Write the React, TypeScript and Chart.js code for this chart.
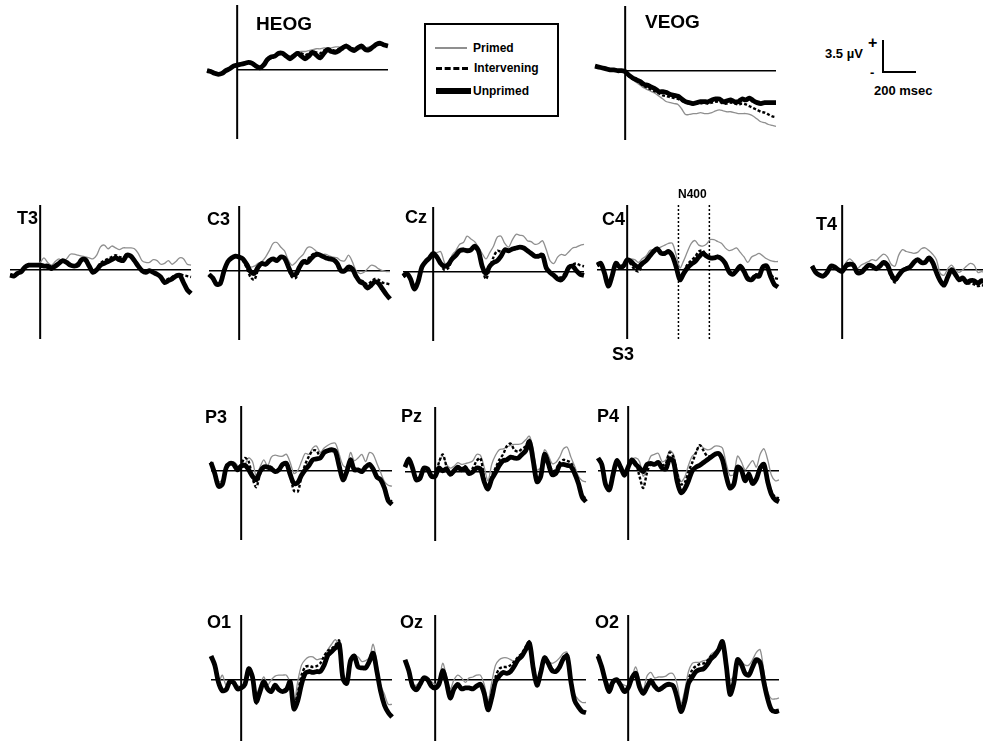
import React, { useEffect, useRef } from "react";
import { Chart, registerables } from "chart.js";

Chart.register(...registerables);

// ---- time axis (ms) ----
const TIMES = [-200,-175,-150,-125,-100,-75,-50,-25,0,25,50,75,100,125,150,175,200,225,250,275,300,325,350,375,400,425,450,475,500,525,550,575,600,625,650,675,700,725,750,775,800,825,850,875,900,925,950,975,1000];
const N400_WINDOW = [340, 545];
const SERIES_NAMES = ["Primed", "Intervening", "Unprimed"];

// ---- amplitudes (µV) ----
const HEOG_PRIMED = [-0.1,-0.2,-0.3,-0.4,-0.3,-0.1,0.1,0.3,0.5,0.6,0.7,0.9,0.8,0.5,0.3,0.6,1.0,1.2,1.4,1.6,1.7,1.6,1.5,1.7,1.9,2.0,2.0,2.1,2.2,2.3,2.3,2.4,2.4,2.4,2.5,2.5,2.4,2.4,2.3,2.3,2.2,2.3,2.4,2.5,2.6,2.7,2.8,2.8,2.8];
const HEOG_INTERVENING = [-0.1,-0.2,-0.4,-0.5,-0.3,-0.1,0.1,0.4,0.5,0.6,0.7,0.8,0.8,0.5,0.3,0.5,1.0,1.3,1.5,1.7,1.8,1.6,1.4,1.6,1.9,1.8,1.6,1.8,2.0,1.9,1.8,2.1,2.3,2.2,2.1,2.3,2.5,2.5,2.4,2.3,2.4,2.5,2.3,2.3,2.5,2.7,2.8,2.7,2.7];
const HEOG_UNPRIMED = [-0.1,-0.2,-0.4,-0.5,-0.4,-0.1,0.1,0.4,0.5,0.6,0.7,0.8,0.7,0.4,0.2,0.5,1.1,1.4,1.5,1.8,1.8,1.5,1.2,1.5,1.8,1.5,1.2,1.5,1.9,1.6,1.3,1.8,2.2,2.0,1.9,2.1,2.4,2.6,2.3,2.1,2.4,2.6,2.2,2.2,2.5,2.8,2.9,2.7,2.6];

const VEOG_PRIMED = [0.5,0.4,0.3,0.2,0.1,0.1,0,0,-0.2,-0.6,-1.0,-1.3,-1.6,-1.9,-2.1,-2.3,-2.5,-2.8,-3.1,-3.4,-3.5,-3.6,-3.7,-4.2,-4.8,-4.8,-4.7,-4.7,-4.6,-4.7,-4.7,-4.6,-4.4,-4.3,-4.4,-4.5,-4.5,-4.6,-4.7,-4.7,-4.7,-4.8,-5.0,-5.3,-5.6,-5.7,-5.9,-6.0,-6.1];
const VEOG_INTERVENING = [0.5,0.4,0.3,0.2,0.1,0.1,0,0,-0.1,-0.6,-0.9,-1.1,-1.4,-1.7,-1.9,-2.1,-2.3,-2.5,-2.7,-2.8,-2.9,-3.0,-3.1,-3.3,-3.5,-3.6,-3.7,-3.6,-3.6,-3.5,-3.6,-3.5,-3.4,-3.4,-3.6,-3.6,-3.5,-3.6,-3.7,-3.6,-3.7,-3.9,-4.1,-4.3,-4.5,-4.6,-4.8,-5.0,-5.1];
const VEOG_UNPRIMED = [0.5,0.4,0.3,0.2,0.1,0.1,0,0,-0.1,-0.5,-0.8,-1.0,-1.2,-1.5,-1.6,-1.8,-2.0,-2.3,-2.3,-2.4,-2.6,-2.7,-2.8,-3.1,-3.4,-3.5,-3.6,-3.5,-3.4,-3.4,-3.4,-3.2,-3.1,-3.1,-3.4,-3.3,-3.2,-3.4,-3.4,-3.1,-3.2,-3.0,-3.3,-3.5,-3.6,-3.5,-3.5,-3.5,-3.5];

const T3_PRIMED = [-0.6,-0.6,-0.3,-0.1,0.4,0.5,0.4,0.5,0.8,1.3,0.8,0.5,0.9,1.2,0.9,1.2,1.7,1.7,1.6,1.5,1.4,1.3,1.2,1.6,2.5,2.7,2.3,2.6,2.4,2.2,2.4,2.4,2.4,2.3,1.8,1.0,0.8,0.8,1.1,1.0,0.6,0.7,1.0,0.6,0.9,1.3,1.2,0.6,0.5];
const T3_INTERVENING = [-0.6,-0.6,-0.4,-0.1,0.3,0.6,0.5,0.5,0.5,0.5,0.2,0.0,0.3,0.7,0.9,0.8,0.5,0.5,0.7,1.0,1.0,0.5,-0.1,0.1,0.7,1.0,1.2,1.4,1.6,1.4,1.3,1.6,1.5,1.1,0.5,0.0,-0.2,-0.1,-0.2,-0.5,-0.7,-1.2,-1.0,-0.8,-0.6,-0.5,-0.6,-0.7,-0.8];
const T3_UNPRIMED = [-0.6,-0.7,-0.4,-0.2,0.3,0.5,0.5,0.5,0.5,0.4,0.4,0.2,0.4,0.7,1.0,0.8,0.5,0.4,0.5,1.1,1.1,0.4,-0.3,0,0.5,0.7,0.9,1.1,1.3,1.1,1.0,1.6,1.5,1.0,0.4,-0.1,-0.3,-0.1,-0.3,-0.5,-0.8,-1.4,-1.2,-1.0,-0.7,-0.6,-1.4,-2.2,-2.6];

const C3_PRIMED = [-0.4,-0.8,-1.3,-1.2,0.1,1.0,1.4,1.6,1.6,1.4,1.0,0.4,0.5,0.8,1.0,1.5,2.2,3.0,3.1,2.6,2.2,1.2,0.6,0.9,1.4,1.8,2.5,2.6,2.3,1.9,1.8,1.8,1.6,1.5,1.4,1.1,1.1,1.7,1.0,0.0,-0.3,-0.2,0.2,0.6,0.5,0.2,0.0,-0.1,-0.1];
const C3_INTERVENING = [-0.4,-0.9,-1.4,-1.3,0.0,1.0,1.3,1.5,1.4,1.1,0.3,-0.7,-1.0,0.1,0.8,0.8,1.1,1.3,1.2,1.5,1.3,0.3,-0.7,-0.8,0.2,1.1,1.2,1.6,1.9,1.8,1.6,1.5,1.4,1.2,0.9,0.1,0.1,0.5,0.3,-0.5,-1.0,-1.2,-1.5,-1.2,-0.9,-1.0,-1.3,-1.4,-1.5];
const C3_UNPRIMED = [-0.4,-0.8,-1.5,-1.4,0,1.0,1.4,1.6,1.5,1.3,0.7,-0.1,-0.3,0.4,0.8,0.7,1.1,1.3,1.1,1.5,1.4,0.5,-0.4,-0.4,0.4,1.0,0.9,1.3,1.7,1.8,1.6,1.4,1.3,1.2,0.8,0,0,0.4,0.2,-0.6,-1.2,-1.4,-1.9,-1.6,-1.2,-1.4,-2.0,-2.6,-3.1];

const CZ_PRIMED = [-0.5,-0.2,-0.7,-1.7,-0.9,0.6,1.2,1.7,2.1,2.1,2.2,1.0,0.4,1.8,2.3,3.0,3.2,3.9,3.6,3.3,2.7,2.0,1.4,2.1,2.8,3.8,3.9,3.1,2.7,3.5,4.1,4.0,3.9,3.4,3.3,3.0,3.1,3.4,2.4,1.2,0.9,1.6,1.9,1.8,2.2,2.6,2.7,2.9,3.0];
const CZ_INTERVENING = [-0.5,-0.3,-0.9,-1.8,-1.0,0.4,1.0,1.4,1.8,1.5,0.8,0.2,0.4,1.3,1.9,2.4,2.5,2.4,2.4,2.7,2.1,0.4,-0.8,0.4,1.6,2.3,2.2,2.3,2.4,2.5,2.7,2.7,2.6,2.4,2.1,1.8,1.8,2.0,0.6,-0.1,-0.3,-0.6,-0.6,-0.1,0.6,0.8,0.9,0.7,0.6];
const CZ_UNPRIMED = [-0.5,-0.2,-0.8,-1.9,-1.1,0.5,1.1,1.5,2.0,1.6,0.9,0.6,0.8,1.4,1.8,2.3,2.4,2.3,2.4,2.8,2.3,0.6,-0.2,0.6,1.0,1.2,1.7,2.4,2.3,2.5,2.6,2.7,2.6,2.3,2.0,1.7,1.7,1.8,0.4,-0.1,-0.4,-0.8,-0.9,-0.4,0.5,0.6,0.1,-0.3,-0.4];

const C4_PRIMED = [0.5,0.7,-0.3,-1.6,-0.6,0.8,0.5,0.6,1.1,1.2,1.1,0.8,1.2,1.5,2.1,2.2,2.3,2.5,2.7,2.9,2.9,1.6,0.2,1.0,2.0,2.9,3.2,2.7,2.6,2.8,3.3,3.3,3.1,2.9,2.4,2.1,2.2,2.4,1.9,1.4,0.8,1.4,1.6,1.8,1.5,1.2,1.0,0.9,0.9];
const C4_INTERVENING = [0.5,0.7,-0.4,-1.7,-0.6,0.7,0.2,0.3,0.9,0.6,0.0,-0.2,0.5,1.0,1.6,2.0,2.2,1.8,1.7,2.0,1.5,0.2,-1.0,-0.2,0.6,1.0,1.4,2.0,2.1,1.6,1.3,1.3,1.5,1.2,0.6,-0.2,-0.4,0.0,0.4,-0.1,-0.8,-0.9,-0.5,-0.5,0.3,0.3,-0.5,-0.9,-1.0];
const C4_UNPRIMED = [0.5,0.7,-0.4,-1.8,-0.7,0.7,0.3,0.4,1.1,0.9,0.5,0.3,0.7,1.0,1.5,2.0,2.3,1.8,1.8,2.0,1.5,0.3,-1.1,-0.4,0.2,0.6,0.9,1.4,1.8,1.5,1.3,1.3,1.4,1.2,0.7,-0.2,-0.5,-0.1,0.4,-0.2,-1.0,-1.1,-0.7,-0.7,0.3,0.4,-0.7,-1.6,-1.9];

const T4_PRIMED = [0.4,-0.2,-0.5,-0.6,-0.2,0.5,0.4,0.1,0.0,0.8,1.2,0.8,0.1,0.5,0.7,0.9,1.1,1.0,1.4,1.7,1.4,0.6,0.4,1.6,2.2,2.0,1.9,1.8,1.9,2.3,2.4,2.1,1.7,1.1,-0.4,-0.6,0.1,0.5,0.0,-0.3,0.0,0.4,0.7,0.5,-0.3,-0.2,-0.3,-0.3,-0.3];
const T4_INTERVENING = [0.4,-0.3,-0.7,-0.8,-0.3,0.4,0.3,-0.1,-0.1,0.6,0.7,0.4,-0.4,-0.2,0.2,0.5,0.3,0.1,0.5,0.7,0.3,-0.8,-1.4,-0.7,-0.1,0.2,0.4,0.8,1.0,0.8,0.9,1.2,0.6,-0.5,-1.3,-1.6,-0.8,-0.2,-0.6,-1.2,-1.1,-1.5,-1.5,-1.6,-1.8,-1.7,-1.8,-1.8,-1.8];
const T4_UNPRIMED = [0.4,-0.3,-0.6,-0.7,-0.3,0.4,0.3,0,-0.2,0.4,0.6,0.5,-0.3,-0.3,0.1,0.5,0.4,0.1,0.4,0.8,0.5,-0.5,-1.1,-0.6,-0.1,0.1,0.3,0.8,1.1,0.8,0.8,1.3,0.8,-0.3,-1.2,-1.7,-0.8,0,-0.5,-1.1,-0.9,-1.4,-1.2,-1.2,-1.5,-1.2,-1.4,-1.4,-1.4];

const P3_PRIMED = [0.8,-0.1,-1.2,-1.0,0.2,0.8,1.0,0.6,0.5,0.7,1.4,1.0,-0.6,0.4,1.2,0.5,1.5,1.7,1.6,1.6,1.8,0.9,-0.3,0.0,1.0,1.9,1.8,2.5,2.7,2.0,2.5,2.8,3.0,3.0,1.8,0.6,0.4,2.0,1.1,1.4,1.8,1.0,2.0,1.8,0.8,-0.2,-1.2,-1.6,-1.7];
const P3_INTERVENING = [1.0,-0.4,-1.6,-1.4,0.1,0.8,0.6,0.1,0.7,1.4,1.0,-0.8,-1.8,-0.4,0.4,0.5,0.4,0.0,0.2,0.8,0.9,-0.4,-2.2,-2.3,-0.6,0.7,1.6,2.2,2.2,1.5,2.1,2.2,2.2,2.1,0.6,-0.8,-0.1,1.3,0.2,0.1,-0.1,0.4,0.7,0.2,-0.6,-1.0,-1.7,-3.0,-3.4];
const P3_UNPRIMED = [0.9,-0.3,-1.7,-1.5,0.3,0.8,0.7,0.1,0.5,0.6,0.1,-0.6,-1.0,-0.1,0.4,0.4,0.2,-0.1,0.1,0.7,0.8,-0.4,-1.4,-1.3,-0.5,0.1,0.6,1.2,1.3,1.4,2.0,2.2,2.3,2.1,0.5,-1.0,-0.1,1.2,0.1,0.1,-0.1,0.4,0.7,0.2,-0.7,-1.0,-1.9,-3.3,-3.7];

const PZ_PRIMED = [0.5,1.2,0.4,-0.8,-0.5,0.5,0.4,-0.2,-0.3,1.0,1.7,0.8,0.4,0.6,1.0,0.8,0.9,1.0,1.2,1.9,1.8,0.5,-1.0,0.8,1.8,2.4,2.5,2.7,2.9,3.0,3.0,3.1,3.5,3.9,2.5,0.2,0.5,2.4,1.8,0.9,1.0,1.6,2.5,2.7,1.6,0.6,-0.5,-1.0,-1.1];
const PZ_INTERVENING = [0.6,1.5,0.3,-1.0,-0.8,0.3,0.1,-0.6,-0.4,1.0,1.9,0.6,-0.4,0.0,0.6,0.3,0.6,0.1,0.4,1.2,1.5,-0.6,-1.8,-0.5,0.4,1.3,1.9,2.8,3.1,2.4,2.2,2.5,2.8,3.5,1.5,-0.9,-0.5,2.0,1.3,0.1,0.2,1.0,1.3,1.2,1.0,0.1,-1.1,-2.5,-3.0];
const PZ_UNPRIMED = [0.5,1.4,0.4,-0.9,-0.7,0.4,0.3,-0.5,-0.5,0.4,0.1,0.3,-0.3,0.1,0.5,0.2,0.4,-0.2,0,0.4,0.3,-1.1,-1.9,-0.8,-0.1,0.7,1.2,1.3,1.6,1.5,1.5,1.9,2.3,3.3,1.2,-1.1,-0.5,1.9,0.9,-0.3,-0.2,0.7,0.8,0.7,0.6,-0.2,-1.3,-2.8,-3.3];

const P4_PRIMED = [1.3,0.7,-1.3,-1.9,-0.3,1.0,0.4,-0.3,0.4,1.2,1.4,1.0,-0.6,0.5,1.6,1.8,1.9,1.0,1.2,2.2,1.8,0.1,-1.2,-0.7,0.6,1.6,2.0,2.8,2.5,2.3,2.4,2.7,2.7,2.5,0.8,-0.5,-0.4,1.6,1.0,0.1,0.6,1.1,0.4,1.8,2.4,1.2,-0.5,-1.1,-1.0];
const P4_INTERVENING = [1.3,0.8,-1.4,-2.0,-0.5,1.0,0.5,-0.3,0.4,1.1,0.9,-0.6,-1.9,-0.2,0.8,0.8,0.9,0.6,0.8,2.0,1.5,-0.4,-1.5,-1.3,-0.1,0.9,2.0,2.8,2.2,1.6,1.6,1.8,1.9,1.3,-0.4,-1.7,-1.3,0.5,0.2,-0.9,-0.2,-1.1,-0.7,0.5,0.8,-1.0,-2.3,-2.9,-3.0];
const P4_UNPRIMED = [1.4,0.7,-1.5,-2.1,-0.4,1.1,0.4,-0.5,0.4,1.2,0.7,0.3,-0.1,0.7,0.8,0.7,0.9,0.3,0.2,1.3,1.0,-1.2,-2.4,-2.0,-1.1,0,0.4,0.6,0.9,1.2,1.5,1.8,1.9,1.2,-0.6,-1.9,-1.5,0.4,0.1,-1.1,-0.4,-1.4,-0.9,0.3,0.7,-1.2,-2.6,-3.2,-3.4];

const O1_PRIMED = [2.3,1.2,-0.2,0.5,-0.6,-0.3,-0.4,-0.6,-0.8,-0.4,1.4,0.0,-1.6,-0.6,0.3,-0.6,0.0,0.4,0.5,0.5,0.5,-0.4,-2.6,-0.2,1.6,2.2,2.5,2.5,2.2,2.3,2.4,3.3,3.9,4.4,3.4,0.5,-0.1,2.3,2.6,2.5,2.0,2.1,2.4,3.9,1.8,-0.6,-1.6,-2.7,-2.7];
const O1_INTERVENING = [2.5,1.5,-0.4,-1.3,-1.0,-0.2,-0.2,-1.0,-0.8,-0.4,1.2,0.0,-2.6,-1.2,-0.2,-1.0,-1.2,-0.6,-1.0,-1.2,-0.8,-0.3,-2.8,-1.5,0.5,1.4,1.5,1.4,1.5,1.8,2.6,3.2,3.4,3.8,4.3,0.5,-0.5,2.0,2.7,1.6,1.3,1.4,2.2,2.8,1.0,-1.2,-2.8,-3.5,-4.0];
const O1_UNPRIMED = [2.6,1.6,-0.3,-1.2,-1.1,-0.2,-0.3,-1.0,-0.9,-0.5,1.2,0.3,-2.4,-1.3,-0.2,-1.0,-1.3,-0.6,-1.1,-1.3,-1.1,-0.2,-3.2,-2.3,-0.5,0.7,0.9,0.8,0.9,0.9,1.6,2.7,3.1,3.5,3.9,0.1,-0.4,2.1,2.6,1.4,1.3,1.3,2.0,2.9,0.9,-1.3,-2.8,-3.6,-4.1];

const OZ_PRIMED = [2.0,0.9,-0.5,-0.6,-0.2,0.4,0.3,-0.2,-0.5,-0.1,1.8,0.4,-1.0,0.0,0.5,0.2,-0.3,0.2,0.3,0.5,0.5,-0.5,-2.3,-0.3,1.6,2.2,2.4,2.4,2.2,2.0,2.4,2.8,3.6,4.3,2.2,0.0,1.4,2.3,2.0,1.8,2.0,2.4,2.9,3.0,0.5,-1.6,-2.2,-2.5,-2.5];
const OZ_INTERVENING = [2.1,1.0,-0.8,-1.2,-0.6,0.1,-0.1,-0.8,-0.9,-0.5,0.9,-0.4,-2.1,-1.1,-0.6,-1.0,-0.9,-0.8,-0.9,-0.6,-0.6,-1.4,-3.0,-1.5,0.3,1.2,1.4,1.4,1.6,2.0,2.5,2.9,3.6,4.2,1.5,-0.6,0.8,2.5,2.0,1.2,1.0,1.5,2.5,2.8,0.0,-2.2,-3.0,-3.4,-3.6];
const OZ_UNPRIMED = [2.2,1.0,-0.7,-1.1,-0.5,0.2,0,-0.7,-0.9,-0.5,1.0,-0.3,-2.0,-1.0,-0.5,-1.0,-0.9,-0.9,-1.0,-0.7,-0.5,-1.5,-3.3,-2.0,-0.2,0.4,0.8,0.7,0.9,1.5,2.2,2.6,3.3,4.0,1.3,-0.6,0.8,2.4,1.8,1.0,0.9,1.4,2.3,2.6,-0.2,-2.3,-3.0,-3.5,-3.6];

const O2_PRIMED = [2.4,1.0,0.0,-0.5,-0.1,0.0,-0.4,-0.6,-0.7,0.3,1.4,0.0,-1.1,0.4,0.8,0.2,0.3,0.3,0.4,0.7,0.6,-0.5,-2.6,-1.2,0.9,1.8,1.9,1.9,2.1,2.2,2.8,3.1,3.5,4.3,2.3,0.0,0.4,2.0,2.0,1.6,1.6,2.2,3.0,3.3,0.9,-1.3,-2.1,-2.1,-2.0];
const O2_INTERVENING = [2.8,1.6,-0.3,-1.4,-0.4,-0.1,-0.7,-1.4,-0.9,0.1,0.6,-0.9,-1.6,-0.9,-0.2,-0.8,-1.2,-1.0,-0.7,-0.6,-0.8,-2.2,-3.6,-2.2,0.0,1.1,1.5,1.7,1.8,2.1,2.6,2.9,3.4,4.0,1.4,-1.5,-0.3,2.0,1.7,0.7,0.5,1.4,2.0,1.7,-0.4,-2.3,-3.4,-3.6,-3.5];
const O2_UNPRIMED = [2.6,1.4,-0.2,-1.3,-0.2,0,-0.6,-1.3,-0.9,0.2,0.7,-0.8,-1.5,-0.8,-0.1,-0.7,-1.1,-0.9,-0.6,-0.5,-0.7,-2.0,-3.5,-2.4,-0.4,0.3,0.9,1.1,1.2,1.7,2.3,2.7,3.3,4.2,1.6,-1.6,-0.4,2.2,1.7,0.7,0.5,1.4,2.2,1.9,-0.3,-2.1,-3.3,-3.5,-3.4];

// ---- geometry / style (kept apart from the data) ----
const X_MIN = -200, X_MAX = 1000, Y_MIN = -7.6, Y_MAX = 7.1;
const PX_PER_MS = 0.151, PX_PER_UV = 9.14, PAD = 8;
const FONT = "'Liberation Sans', Arial, Helvetica, sans-serif";

type PanelDef = {
  name: string;
  series: number[][];
  onsetX: number;
  zeroY: number;
  zeroFromOnset?: boolean;
  window?: number[];
  labelX: number;
  labelTop: number;
  labelSize: number;
};

const PANELS: PanelDef[] = [
  { name: "HEOG", series: [HEOG_PRIMED, HEOG_INTERVENING, HEOG_UNPRIMED], onsetX: 237, zeroY: 70, zeroFromOnset: true, labelX: 256, labelTop: 14, labelSize: 19 },
  { name: "VEOG", series: [VEOG_PRIMED, VEOG_INTERVENING, VEOG_UNPRIMED], onsetX: 625, zeroY: 71, zeroFromOnset: true, labelX: 645, labelTop: 12, labelSize: 19 },
  { name: "T3", series: [T3_PRIMED, T3_INTERVENING, T3_UNPRIMED], onsetX: 40.5, zeroY: 270, labelX: 17, labelTop: 209, labelSize: 18 },
  { name: "C3", series: [C3_PRIMED, C3_INTERVENING, C3_UNPRIMED], onsetX: 239, zeroY: 271, labelX: 207, labelTop: 210, labelSize: 18 },
  { name: "Cz", series: [CZ_PRIMED, CZ_INTERVENING, CZ_UNPRIMED], onsetX: 433, zeroY: 272, labelX: 405, labelTop: 208, labelSize: 18 },
  { name: "C4", series: [C4_PRIMED, C4_INTERVENING, C4_UNPRIMED], onsetX: 627, zeroY: 270, window: N400_WINDOW, labelX: 602, labelTop: 210, labelSize: 18 },
  { name: "T4", series: [T4_PRIMED, T4_INTERVENING, T4_UNPRIMED], onsetX: 842, zeroY: 270, labelX: 816, labelTop: 215, labelSize: 18 },
  { name: "P3", series: [P3_PRIMED, P3_INTERVENING, P3_UNPRIMED], onsetX: 241, zeroY: 471, labelX: 205, labelTop: 408, labelSize: 18 },
  { name: "Pz", series: [PZ_PRIMED, PZ_INTERVENING, PZ_UNPRIMED], onsetX: 435, zeroY: 472, labelX: 401, labelTop: 407, labelSize: 18 },
  { name: "P4", series: [P4_PRIMED, P4_INTERVENING, P4_UNPRIMED], onsetX: 628, zeroY: 471, labelX: 597, labelTop: 407, labelSize: 18 },
  { name: "O1", series: [O1_PRIMED, O1_INTERVENING, O1_UNPRIMED], onsetX: 241, zeroY: 680, labelX: 207, labelTop: 613, labelSize: 18 },
  { name: "Oz", series: [OZ_PRIMED, OZ_INTERVENING, OZ_UNPRIMED], onsetX: 435, zeroY: 680, labelX: 400, labelTop: 613, labelSize: 18 },
  { name: "O2", series: [O2_PRIMED, O2_INTERVENING, O2_UNPRIMED], onsetX: 628, zeroY: 680, labelX: 595, labelTop: 613, labelSize: 18 },
];

const STYLES = [
  { color: "#8f8f8f", width: 1.3, dash: [] as number[], order: 2 },
  { color: "#000000", width: 2.4, dash: [3, 2], order: 0 },
  { color: "#000000", width: 4.8, dash: [] as number[], order: 1 },
];

function Panel({ def }: { def: PanelDef }) {
  const ref = useRef<HTMLCanvasElement>(null);
  const areaW = (X_MAX - X_MIN) * PX_PER_MS;
  const areaH = (Y_MAX - Y_MIN) * PX_PER_UV;
  const w = Math.round(areaW + 2 * PAD);
  const h = Math.round(areaH + 2 * PAD);
  const left = def.onsetX - (0 - X_MIN) * PX_PER_MS - PAD;
  const top = def.zeroY - Y_MAX * PX_PER_UV - PAD;

  useEffect(() => {
    if (!ref.current) return;
    const axesPlugin = {
      id: "eegAxes",
      beforeDatasetsDraw(chart: any) {
        const { ctx, chartArea, scales } = chart;
        const x0 = scales.x.getPixelForValue(0);
        const y0 = scales.y.getPixelForValue(0);
        ctx.save();
        ctx.strokeStyle = "#000";
        ctx.lineWidth = 2;
        ctx.beginPath();
        ctx.moveTo(x0, chartArea.top);
        ctx.lineTo(x0, chartArea.bottom);
        ctx.stroke();
        ctx.lineWidth = 1.6;
        ctx.beginPath();
        ctx.moveTo(scales.x.getPixelForValue(def.zeroFromOnset ? 0 : X_MIN), y0);
        ctx.lineTo(chartArea.right, y0);
        ctx.stroke();
        if (def.window) {
          ctx.setLineDash([2, 2]);
          ctx.lineWidth = 1.5;
          for (const t of def.window) {
            const xp = scales.x.getPixelForValue(t);
            ctx.beginPath();
            ctx.moveTo(xp, chartArea.top);
            ctx.lineTo(xp, chartArea.bottom);
            ctx.stroke();
          }
        }
        ctx.restore();
      },
    };
    const chart = new Chart(ref.current, {
      type: "line",
      data: {
        datasets: def.series.map((vals, k) => ({
          label: SERIES_NAMES[k],
          data: vals.map((v, i) => ({ x: TIMES[i], y: v })),
          borderColor: STYLES[k].color,
          borderWidth: STYLES[k].width,
          borderDash: STYLES[k].dash,
          order: STYLES[k].order,
          pointRadius: 0,
          fill: false,
          tension: 0.3,
          clip: false as any,
        })),
      },
      options: {
        animation: false,
        responsive: false,
        maintainAspectRatio: false,
        events: [],
        layout: { padding: PAD },
        plugins: { legend: { display: false }, tooltip: { enabled: false }, title: { display: false } },
        scales: {
          x: { type: "linear", min: X_MIN, max: X_MAX, display: false },
          y: { type: "linear", min: Y_MIN, max: Y_MAX, display: false },
        },
      },
      plugins: [axesPlugin],
    });
    return () => chart.destroy();
  }, []);

  return (
    <>
      <canvas
        ref={ref}
        width={w}
        height={h}
        style={{ position: "absolute", left, top, width: w, height: h }}
      />
      <div
        style={{
          position: "absolute",
          left: def.labelX,
          top: def.labelTop,
          fontSize: def.labelSize,
          lineHeight: 1,
          fontWeight: "bold",
          whiteSpace: "nowrap",
        }}
      >
        {def.name}
      </div>
    </>
  );
}

function abs(left: number, top: number, extra: any = {}) {
  return { position: "absolute" as const, left, top, lineHeight: 1, fontWeight: "bold" as const, whiteSpace: "nowrap" as const, ...extra };
}

export default function App() {
  return (
    <div
      style={{
        position: "fixed",
        left: 0,
        top: 0,
        width: 983,
        height: 741,
        overflow: "hidden",
        background: "#fff",
        fontFamily: FONT,
        color: "#000",
      }}
    >
      {PANELS.map((p) => (
        <Panel key={p.name} def={p} />
      ))}

      {/* C4 annotations */}
      <div style={abs(678, 188, { fontSize: 12 })}>N400</div>
      <div style={abs(612, 345, { fontSize: 18 })}>S3</div>

      {/* legend */}
      <div style={{ position: "absolute", left: 424, top: 23, width: 131, height: 90, border: "2px solid #000" }} />
      <div style={{ position: "absolute", left: 435, top: 47, width: 32, height: 2, background: "#8f8f8f" }} />
      <div style={{ position: "absolute", left: 436, top: 67, width: 32, height: 0, borderTop: "3px dashed #000" }} />
      <div style={{ position: "absolute", left: 436, top: 88, width: 35, height: 6, background: "#000" }} />
      <div style={abs(473, 42, { fontSize: 12 })}>{SERIES_NAMES[0]}</div>
      <div style={abs(474, 62, { fontSize: 12 })}>{SERIES_NAMES[1]}</div>
      <div style={abs(473, 85, { fontSize: 12 })}>{SERIES_NAMES[2]}</div>

      {/* calibration bar */}
      <div style={{ position: "absolute", left: 882, top: 40, width: 2, height: 33, background: "#000" }} />
      <div style={{ position: "absolute", left: 882, top: 71, width: 34, height: 2, background: "#000" }} />
      <div style={abs(825, 47, { fontSize: 13 })}>3.5 µV</div>
      <div style={abs(868, 35, { fontSize: 16 })}>+</div>
      <div style={abs(870, 66, { fontSize: 13 })}>-</div>
      <div style={abs(874, 84, { fontSize: 13 })}>200 msec</div>
    </div>
  );
}
